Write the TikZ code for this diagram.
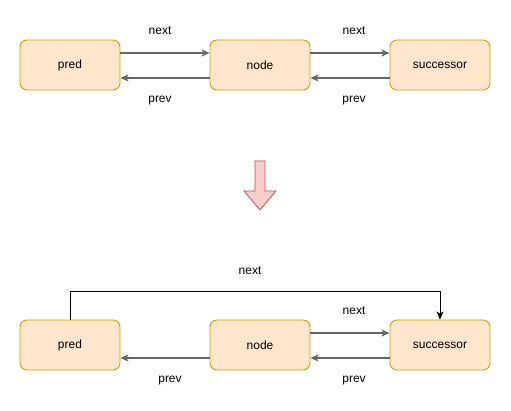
\documentclass[tikz,border=0pt]{standalone}
\usepackage{fontspec}
\setmainfont{Liberation Sans}
\usetikzlibrary{arrows.meta}
\definecolor{boxfill}{HTML}{FFE6CC}
\definecolor{boxdraw}{HTML}{D79B00}
\definecolor{edgegray}{HTML}{666666}
\definecolor{downfill}{HTML}{F8CECC}
\definecolor{downdraw}{HTML}{B85450}
\begin{document}
\begin{tikzpicture}[x=1pt,y=-1pt,
  box/.style={draw=boxdraw,fill=boxfill,rounded corners=7pt,minimum width=100pt,minimum height=50pt,line width=0.9pt,inner sep=0pt,font=\fontsize{12}{14}\selectfont},
  link/.style={draw=edgegray,line width=1.5pt,-{Stealth[length=8pt,width=7pt,inset=2pt]}},
  toplink/.style={draw=black,line width=0.9pt,-{Stealth[length=8pt,width=7pt,inset=2pt]}},
  lbl/.style={font=\fontsize{12}{14}\selectfont,inner sep=0pt}]
\useasboundingbox (0,0) rectangle (511,411);
% top row
\node[box] (p1) at (70,65) {pred};
\node[box] (n1) at (260,65) {node};
\node[box] (s1) at (440,65) {successor};
\draw[link] ([yshift=12pt]p1.east) -- ([yshift=12pt]n1.west);
\draw[link] ([yshift=12pt]n1.east) -- ([yshift=12pt]s1.west);
\draw[link] ([yshift=-13pt]n1.west) -- ([yshift=-13pt]p1.east);
\draw[link] ([yshift=-13pt]s1.west) -- ([yshift=-13pt]n1.east);
\node[lbl] (t1) at (160,31) {next};
\node[lbl] (t2) at (354,31) {next};
\node[lbl] (t3) at (160,101) {prev};
\node[lbl] (t4) at (354,101) {prev};
% down arrow
\draw[draw=downdraw,fill=downfill,line width=0.8pt,line join=miter]
  (255,161) -- (265,161) -- (265,191) -- (276,191) -- (260,210) -- (244,191) -- (255,191) -- cycle;
% bottom row
\node[box] (p2) at (70,345) {pred};
\node[box] (n2) at (260,345) {node};
\node[box] (s2) at (440,345) {successor};
\coordinate (c1) at (70,291);
\coordinate (c2) at (440,291);
\draw[toplink] (p2.north) -- (c1) -- (c2) -- (s2.north);
\draw[link] ([yshift=12pt]n2.east) -- ([yshift=12pt]s2.west);
\draw[link] ([yshift=-13pt]n2.west) -- ([yshift=-13pt]p2.east);
\draw[link] ([yshift=-13pt]s2.west) -- ([yshift=-13pt]n2.east);
\node[lbl] (b1) at (250,271) {next};
\node[lbl] (b2) at (354,311) {next};
\node[lbl] (b3) at (170,381) {prev};
\node[lbl] (b4) at (354,381) {prev};
\end{tikzpicture}
\end{document}
